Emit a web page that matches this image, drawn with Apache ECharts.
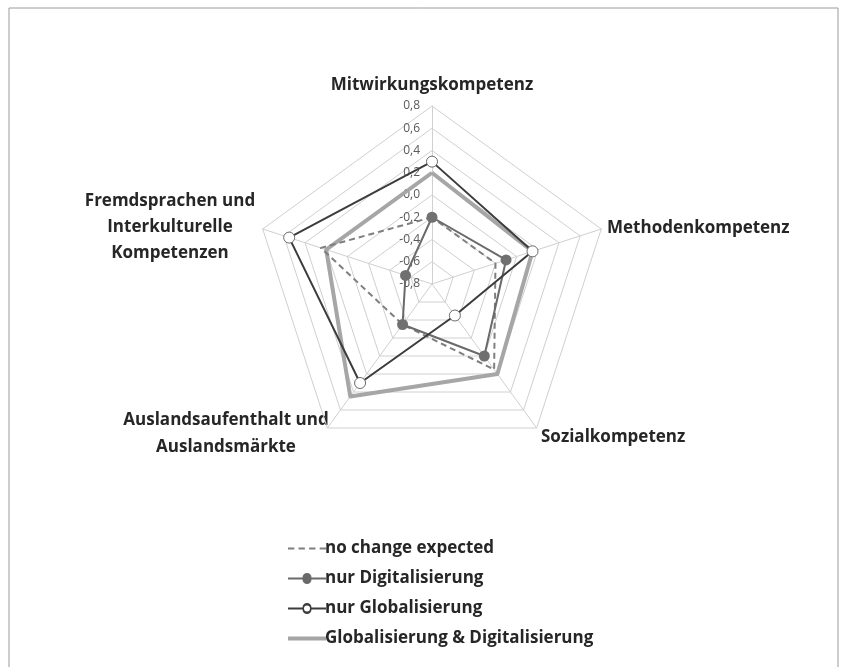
<!DOCTYPE html>
<html>
<head>
<meta charset="utf-8">
<script src="https://cdn.jsdelivr.net/npm/echarts@6/dist/echarts.min.js"></script>
<style>
  html, body { margin: 0; padding: 0; background: #fff; }
  #main { width: 846px; height: 667px; }
</style>
</head>
<body>
<div id="main"></div>
<script>
// Achsen (Reihenfolge: oben, dann gegen den Uhrzeigersinn)
const axes = [
  "Mitwirkungskompetenz",
  "Fremdsprachen und\nInterkulturelle\nKompetenzen",
  "Auslandsaufenthalt und\nAuslandsmärkte",
  "Sozialkompetenz",
  "Methodenkompetenz"
];
const seriesNames = [
  "no change expected",
  "nur Digitalisierung",
  "nur Globalisierung",
  "Globalisierung & Digitalisierung"
];
const noChange = [-0.2, 0.25, -0.35, 0.15, -0.2];
const nurDigital = [-0.2, -0.55, -0.35, 0.0, -0.1];
const nurGlobal = [0.3, 0.55, 0.3, -0.45, 0.15];
const globalDigital = [0.2, 0.2, 0.45, 0.2, 0.15];
const tickMin = -0.8, tickMax = 0.8, tickStep = 0.2;

// Layout
const cx = 432, cy = 284, R = 178;
const labelFont = 'bold 17px "Open Sans", sans-serif';
const textColor = "#262626";

const chart = echarts.init(document.getElementById("main"));

const option = {
  animation: false,
  backgroundColor: "#fff",
  radar: {
    center: [cx, cy],
    radius: R,
    startAngle: 90,
    shape: "polygon",
    splitNumber: 8,
    indicator: axes.map(n => ({ name: n, min: tickMin, max: tickMax })),
    axisName: { show: false },
    axisLine: { lineStyle: { color: "#d0d0d0", width: 1 } },
    splitLine: { lineStyle: { color: "#d0d0d0", width: 1 } },
    splitArea: { show: false },
    axisTick: { show: false },
    axisLabel: { show: false }
  },
  // Skalenbeschriftung entlang der oberen Achse
  grid: { left: cx, top: cy - R, width: 1, height: R },
  xAxis: { type: "value", show: false },
  yAxis: {
    type: "value",
    min: tickMin,
    max: tickMax,
    interval: tickStep,
    axisLine: { show: false },
    axisTick: { show: false },
    splitLine: { show: false },
    axisLabel: {
      margin: 12,
      color: "#595959",
      fontSize: 12,
      fontFamily: "Open Sans",
      formatter: v => v.toFixed(1).replace(".", ",")
    }
  },
  legend: {
    orient: "vertical",
    left: 283,
    top: 535,
    itemWidth: 38,
    itemHeight: 14,
    itemGap: 13,
    itemStyle: { borderWidth: 0 },
    textStyle: { fontFamily: "Open Sans", fontWeight: "bold", fontSize: 17, color: textColor, padding: [0, 0, 0, -6] },
    data: [
      { name: seriesNames[0], icon: "path://M0,0h6v2h-6z M10,0h6v2h-6z M20,0h6v2h-6z M30,0h6v2h-6z",
        itemStyle: { color: "#7f7f7f", borderWidth: 0 } },
      { name: seriesNames[1], icon: "path://M0,3h14.5a4,4 0 1,1 9,0h14.5v2h-14.5a4,4 0 1,1 -9,0h-14.5z",
        itemStyle: { color: "#6a6a6a", borderWidth: 0 } },
      { name: seriesNames[2], icon: "path://M0,3h14.5a4.5,4.5 0 0,1 9,0h14.5v2h-14.5a4.5,4.5 0 0,1 -9,0h-14.5z M16,4a3,3 0 1,0 6,0a3,3 0 1,0 -6,0z",
        itemStyle: { color: "#3c3c3c", borderWidth: 0 } },
      { name: seriesNames[3], icon: "path://M0,0h38v4h-38z",
        itemStyle: { color: "#a6a6a6", borderWidth: 0 } }
    ]
  },
  graphic: [
    { type: "rect", shape: { x: 9, y: 8, width: 829, height: 680 }, style: { fill: "none", stroke: "#9a9a9a", lineWidth: 1 }, silent: true },
    { type: "text", x: cx, y: 85, style: { text: axes[0], font: labelFont, fill: textColor, align: "center", verticalAlign: "middle" } },
    { type: "text", x: 170, y: 227, style: { text: axes[1], font: labelFont, fill: textColor, align: "center", verticalAlign: "middle", lineHeight: 26 } },
    { type: "text", x: 226, y: 434, style: { text: axes[2], font: labelFont, fill: textColor, align: "center", verticalAlign: "middle", lineHeight: 27 } },
    { type: "text", x: 541, y: 437, style: { text: axes[3], font: labelFont, fill: textColor, align: "left", verticalAlign: "middle" } },
    { type: "text", x: 607, y: 228, style: { text: axes[4], font: labelFont, fill: textColor, align: "left", verticalAlign: "middle" } }
  ],
  series: [
    {
      type: "radar",
      data: [
        {
          name: seriesNames[3], value: globalDigital, symbol: "none",
          lineStyle: { color: "#a6a6a6", width: 4 }, itemStyle: { color: "#a6a6a6" }
        },
        {
          name: seriesNames[0], value: noChange, symbol: "none",
          lineStyle: { color: "#7f7f7f", width: 2, type: [6, 4] }, itemStyle: { color: "#7f7f7f" }
        },
        {
          name: seriesNames[1], value: nurDigital, symbol: "circle", symbolSize: 11,
          lineStyle: { color: "#6a6a6a", width: 2 }, itemStyle: { color: "#707070" }
        },
        {
          name: seriesNames[2], value: nurGlobal, symbol: "circle", symbolSize: 11,
          lineStyle: { color: "#3c3c3c", width: 2 },
          itemStyle: { color: "#fff", borderColor: "#6a6a6a", borderWidth: 1 }
        }
      ]
    }
  ]
};

chart.setOption(option);
</script>
</body>
</html>
